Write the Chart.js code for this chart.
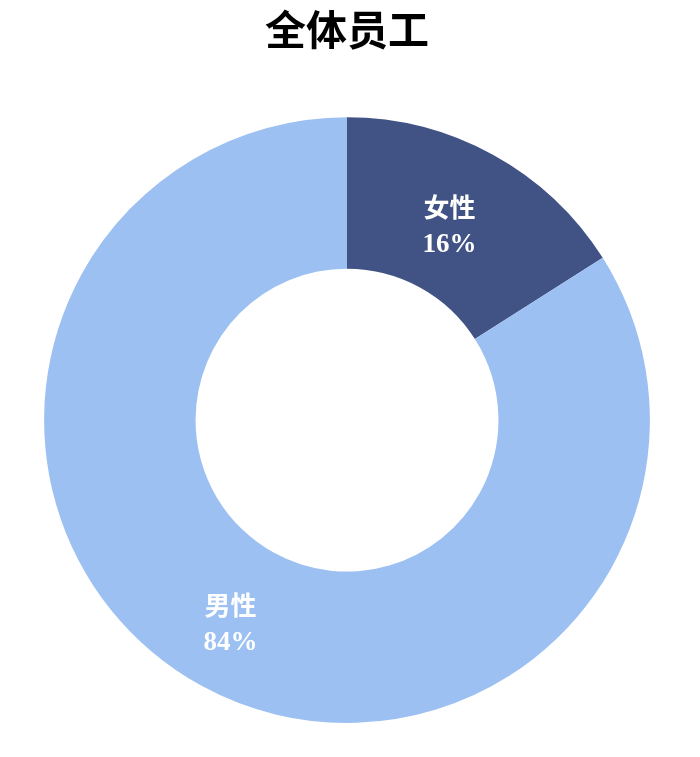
<!DOCTYPE html>
<html lang="zh-CN">
  <head>
    <meta charset="UTF-8" />
    <title>全体员工</title>
    <script src="https://cdn.jsdelivr.net/npm/chart.js"></script>
    <style>
      html,body{margin:0;padding:0;background:#fff}
      #wrap{width:700px;height:757px}
    </style>
  </head>
  <body>
    <div id="wrap"><canvas id="pie"></canvas></div>
    <script>
      // 数据
      const categories = ['女性', '男性'];
      const shares = [16, 84];
      const sliceColors = ['#415385', '#9dc0f2'];

      // 扇区内标签：名称 + 百分比
      const sliceLabels = {
        id: 'sliceLabels',
        afterDatasetsDraw(chart) {
          const { ctx } = chart;
          const meta = chart.getDatasetMeta(0);
          ctx.save();
          ctx.fillStyle = '#fff';
          ctx.textAlign = 'center';
          ctx.textBaseline = 'middle';
          meta.data.forEach((arc, i) => {
            const p = arc.tooltipPosition();
            const x = p.x - 7, y = p.y + 6;
            ctx.font = 'bold 26px "Liberation Serif", "Noto Sans CJK SC", serif';
            ctx.fillText(categories[i], x, y - 17);
            ctx.font = 'bold 27px "Liberation Serif", serif';
            ctx.fillText(shares[i] + '%', x, y + 18);
          });
          ctx.restore();
        }
      };

      new Chart(document.getElementById('pie'), {
        type: 'doughnut',
        data: {
          labels: categories,
          datasets: [{ data: shares, backgroundColor: sliceColors, borderWidth: 0, hoverOffset: 0 }]
        },
        options: {
          responsive: true,
          maintainAspectRatio: false,
          animation: false,
          cutout: '50%',
          layout: { padding: { top: 0, right: 6, bottom: 34, left: 0 } },
          plugins: {
            legend: { display: false },
            tooltip: { enabled: false },
            title: {
              display: true,
              text: '全体员工',
              color: '#000',
              font: { family: '"Noto Sans CJK SC", sans-serif', size: 41, weight: 'bold' },
              padding: { top: 5, bottom: 63 }
            }
          }
        },
        plugins: [sliceLabels]
      });
    </script>
  </body>
</html>
